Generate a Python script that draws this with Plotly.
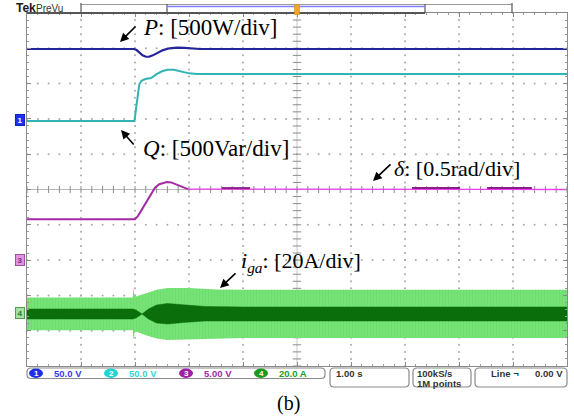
import numpy as np
import plotly.graph_objects as go

# ---------------- data (time in s, 1 s/div; level in divisions, 0 = bottom) ----------------
p_t = [0, 1.98, 2.03, 2.08, 2.14, 2.2, 2.26, 2.33, 2.42, 2.52, 2.64, 2.78, 2.92, 3.06, 3.2, 10]
p_y = [8.98, 8.98, 8.95, 8.88, 8.8, 8.76, 8.76, 8.8, 8.87, 8.95, 9.0, 9.02, 9.01, 8.99, 8.98, 8.98]

q_t = [0, 1.99, 2.02, 2.05, 2.08, 2.12, 2.19, 2.3, 2.4, 2.5, 2.6, 2.72, 2.85, 3.0, 3.15, 10]
q_y = [6.94, 6.94, 7.3, 7.7, 7.98, 8.08, 8.13, 8.16, 8.27, 8.35, 8.39, 8.39, 8.34, 8.29, 8.27, 8.27]

d_t = [0, 2.0, 2.06, 2.15, 2.28, 2.37, 2.45, 2.52, 2.59, 2.67, 2.76, 2.87, 2.98]
d_y = [4.16, 4.16, 4.26, 4.50, 4.84, 5.05, 5.15, 5.19, 5.21, 5.2, 5.15, 5.07, 5.01]
d2_t = [2.98, 10]
d2_y = [5.01, 5.0]
d3_t = [3.61, 4.13, None, 7.13, 8.02, None, 8.52, 9.35]
d3_y = [5.04, 5.04, None, 5.04, 5.04, None, 5.04, 5.04]

# grid current envelope (outer = peaks, inner = dense core)
ig_t = [0, 1.96, 1.97, 1.99, 2.02, 2.2, 2.4, 2.6, 3.0, 3.5, 4.0, 10]
ig_up = [1.94, 1.94, 2.21, 2.02, 1.97, 2.07, 2.16, 2.21, 2.21, 2.17, 2.16, 2.16]
ig_lo = [1.01, 1.01, 0.74, 0.93, 0.98, 0.87, 0.78, 0.74, 0.74, 0.77, 0.79, 0.79]
ic_t = [0, 1.96, 2.02, 2.13, 2.25, 2.4, 2.6, 2.9, 3.3, 4.0, 10]
ic_up = [1.615, 1.615, 1.586, 1.473, 1.615, 1.728, 1.77, 1.728, 1.686, 1.671, 1.671]
ic_lo = [1.331, 1.331, 1.360, 1.473, 1.331, 1.218, 1.19, 1.232, 1.275, 1.275, 1.275]

ch_labels = ["1", "2", "3", "4"]
ch_scales = ["50.0 V", "50.0 V", "5.00 V", "20.0 A"]
ch_colors = ["#1f2fe8", "#22d4d4", "#a020a0", "#1a9a1a"]
ch_text_colors = ["#3a3af0", "#33d6d6", "#a526a5", "#20a020"]

# ---------------- geometry helpers (pixel -> paper) ----------------
L, R, T, B = 27, 567, 13, 366
W, H = 574, 416


def PX(px):
    return (px - L) / (R - L)


def PY(py):
    return (B - py) / (B - T)


fig = go.Figure()

# graticule dots
gx, gy = [], []
for k in [1, 2, 3, 4, 6, 7, 8, 9]:
    for s in np.arange(0, 10.01, 0.2):
        gx.append(k); gy.append(s)
        gx.append(s); gy.append(k)
fig.add_trace(go.Scatter(x=gx, y=gy, mode="markers", hoverinfo="skip",
                         marker=dict(size=2, color="#a9a9a9"), showlegend=False))
# centre cross
fig.add_trace(go.Scatter(x=[0, 10], y=[5, 5], mode="lines", line=dict(color="#b8b8b8", width=1),
                         hoverinfo="skip", showlegend=False))
fig.add_trace(go.Scatter(x=[5, 5], y=[0, 10], mode="lines", line=dict(color="#c8c8c8", width=1),
                         hoverinfo="skip", showlegend=False))
ticks = np.arange(0, 10.01, 0.2)
fig.add_trace(go.Scatter(x=ticks, y=[5] * len(ticks), mode="markers", hoverinfo="skip", showlegend=False,
                         marker=dict(symbol="line-ns-open", size=5, color="#8c8c8c",
                                     line=dict(color="#8c8c8c", width=1))))
fig.add_trace(go.Scatter(x=[5] * len(ticks), y=ticks, mode="markers", hoverinfo="skip", showlegend=False,
                         marker=dict(symbol="line-ew-open", size=6, color="#8c8c8c",
                                     line=dict(color="#8c8c8c", width=1))))

# grid current: outer light band and dark core
fig.add_trace(go.Scatter(x=ig_t + ig_t[::-1], y=ig_up + ig_lo[::-1], mode="lines", fill="toself",
                         line=dict(width=0, color="#72e072"), fillcolor="#74e274",
                         fillpattern=dict(shape="|", size=3, solidity=0.25, fgcolor="#5fcf5f",
                                          bgcolor="#76e376"),
                         hoverinfo="skip", showlegend=False))
fig.add_trace(go.Scatter(x=ic_t + ic_t[::-1], y=ic_up + ic_lo[::-1], mode="lines", fill="toself",
                         line=dict(width=0.5, color="#0a6e0a"), fillcolor="#0a6e0a",
                         hoverinfo="skip", showlegend=False))

# delta
fig.add_trace(go.Scatter(x=d_t, y=d_y, mode="lines", line=dict(color="#a52aa5", width=2),
                         hoverinfo="skip", showlegend=False))
fig.add_trace(go.Scatter(x=d2_t, y=d2_y, mode="lines", line=dict(color="#ee3cee", width=1.3),
                         hoverinfo="skip", showlegend=False))
fig.add_trace(go.Scatter(x=d3_t, y=d3_y, mode="lines", line=dict(color="#8a1f8a", width=2),
                         hoverinfo="skip", showlegend=False))
# Q
fig.add_trace(go.Scatter(x=q_t, y=q_y, mode="lines", line=dict(color="#33b4b4", width=2),
                         hoverinfo="skip", showlegend=False))
# P
fig.add_trace(go.Scatter(x=p_t, y=p_y, mode="lines", line=dict(color="#24249c", width=2.2),
                         hoverinfo="skip", showlegend=False))

shapes = []
ann = []


def rrect(x0, y0, x1, y1, r=4, color="#8a8a8a"):
    X0, X1 = PX(x0), PX(x1)
    Y0, Y1 = PY(y0), PY(y1)
    rx, ry = r / (R - L), r / (B - T)
    path = (f"M{X0+rx},{Y0} L{X1-rx},{Y0} Q{X1},{Y0} {X1},{Y0-ry} L{X1},{Y1+ry} "
            f"Q{X1},{Y1} {X1-rx},{Y1} L{X0+rx},{Y1} Q{X0},{Y1} {X0},{Y1+ry} "
            f"L{X0},{Y0-ry} Q{X0},{Y0} {X0+rx},{Y0} Z")
    shapes.append(dict(type="path", path=path, xref="paper", yref="paper",
                       line=dict(color=color, width=1.2)))


def seg(x0, y0, x1, y1, color, width=1):
    shapes.append(dict(type="line", xref="paper", yref="paper", x0=PX(x0), y0=PY(y0),
                       x1=PX(x1), y1=PY(y1), line=dict(color=color, width=width)))


def txt(x, y, s, size, color="black", family="Liberation Sans", xanchor="left", **kw):
    ann.append(dict(x=PX(x), y=PY(y), xref="paper", yref="paper", text=s, showarrow=False,
                    xanchor=xanchor, yanchor="middle", font=dict(size=size, color=color, family=family), **kw))


def arrow(hx, hy, tx, ty):
    ann.append(dict(x=PX(hx), y=PY(hy), xref="paper", yref="paper", ax=tx - hx, ay=ty - hy,
                    axref="pixel", ayref="pixel", text="", showarrow=True, arrowhead=2,
                    arrowsize=1.1, arrowwidth=1.6, arrowcolor="black"))


# top record bar
seg(81, 4.5, 512, 4.5, "#9a9a9a", 1)
seg(81, 3, 81, 13, "#555555", 1.2)
seg(512, 3, 512, 13, "#555555", 1.2)
seg(167, 4, 167, 13, "#555555", 1.2)
seg(425, 4, 425, 13, "#555555", 1.2)
seg(167, 6.5, 425, 6.5, "#7f7fff", 1.5)
seg(27, 13, 425, 13, "#555555", 1.8)
shapes.append(dict(type="rect", xref="paper", yref="paper", x0=PX(294.5), x1=PX(299.5), y0=PY(14.5), y1=PY(4.5),
                   fillcolor="#f3a52a", line=dict(color="#d08010", width=0.5)))
txt(14, 8.5, "<b>Tek</b>", 12, "#1a1a1a", "Liberation Sans")
txt(34, 8, "PreVu", 10, "#333333", "Liberation Sans")

# channel markers
for lab, py, bg, bc, fc in [("1", 120, "#2030f0", "#1020c0", "white"),
                           ("3", 260, "#e094e0", "#a050a0", "#8a2a8a"),
                           ("4", 313, "#a4e0a4", "#50a050", "#2a7a2a")]:
    ann.append(dict(x=PX(19.5), y=PY(py), xref="paper", yref="paper", text=f"<b>{lab}</b>", showarrow=False,
                    xanchor="center", yanchor="middle", bgcolor=bg, bordercolor=bc, borderwidth=1, borderpad=0,
                    font=dict(size=8, color=fc, family="Liberation Sans"), width=8, height=10))

# bottom status boxes
rrect(27, 368, 325, 378.5)
rrect(330, 368, 409, 387)
rrect(413, 368, 471, 387)
rrect(475, 368, 567, 387)
oval_x = [36, 111, 186, 261]
for i in range(4):
    cx = oval_x[i]
    shapes.append(dict(type="circle", xref="paper", yref="paper", x0=PX(cx - 7), x1=PX(cx + 7),
                       y0=PY(378), y1=PY(368.5), fillcolor=ch_colors[i], line=dict(color=ch_colors[i], width=0)))
    txt(cx, 373.3, f"<b>{ch_labels[i]}</b>", 8, "white", "Liberation Sans", xanchor="center")
    txt(cx + 16, 373.3, f"<b>{ch_scales[i]}</b>", 9.5, ch_text_colors[i], "Liberation Sans")
txt(334, 373.3, "<b>1.00 s</b>", 9.5, "#333333")
txt(415, 373, "<b>100kS/s</b>", 9.5, "#333333")
txt(415, 383, "<b>1M points</b>", 9.5, "#333333")
txt(489, 373, "<b>Line ¬</b>", 9.5, "#333333")
txt(565, 373, "<b>0.00 V</b>", 9.5, "#333333", xanchor="right")

# annotations
serif = "Liberation Serif"
txt(141, 27, "<i>P</i>: [500W/div]", 23, "black", serif)
txt(141, 148, "<i>Q</i>: [500Var/div]", 23, "black", serif)
txt(392, 168, "<i>δ</i>: [0.5rad/div]", 22, "black", serif)
txt(239, 262, "<i>i<sub>ga</sub></i>: [20A/div]", 22, "black", serif)
arrow(120, 42, 137, 25)
arrow(121, 130, 135, 146)
arrow(373, 181, 392, 163)
arrow(220, 288, 237, 272)
txt(288, 403, "(b)", 20, "black", serif, xanchor="center")

ax_common = dict(range=[0, 10], showgrid=False, zeroline=False, showticklabels=False,
                 showline=True, mirror="allticks", linecolor="#8a8a8a", linewidth=1,
                 ticks="inside", ticklen=4, tickcolor="#8a8a8a", dtick=1, tick0=0, fixedrange=True,
                 minor=dict(dtick=0.2, ticklen=2, ticks="inside", tickcolor="#9a9a9a"))
fig.update_layout(width=W, height=H, margin=dict(l=L, r=W - R, t=T, b=H - B),
                  paper_bgcolor="white", plot_bgcolor="white",
                  xaxis=ax_common, yaxis=ax_common, shapes=shapes, annotations=ann, showlegend=False)
fig.write_html("out.html")
